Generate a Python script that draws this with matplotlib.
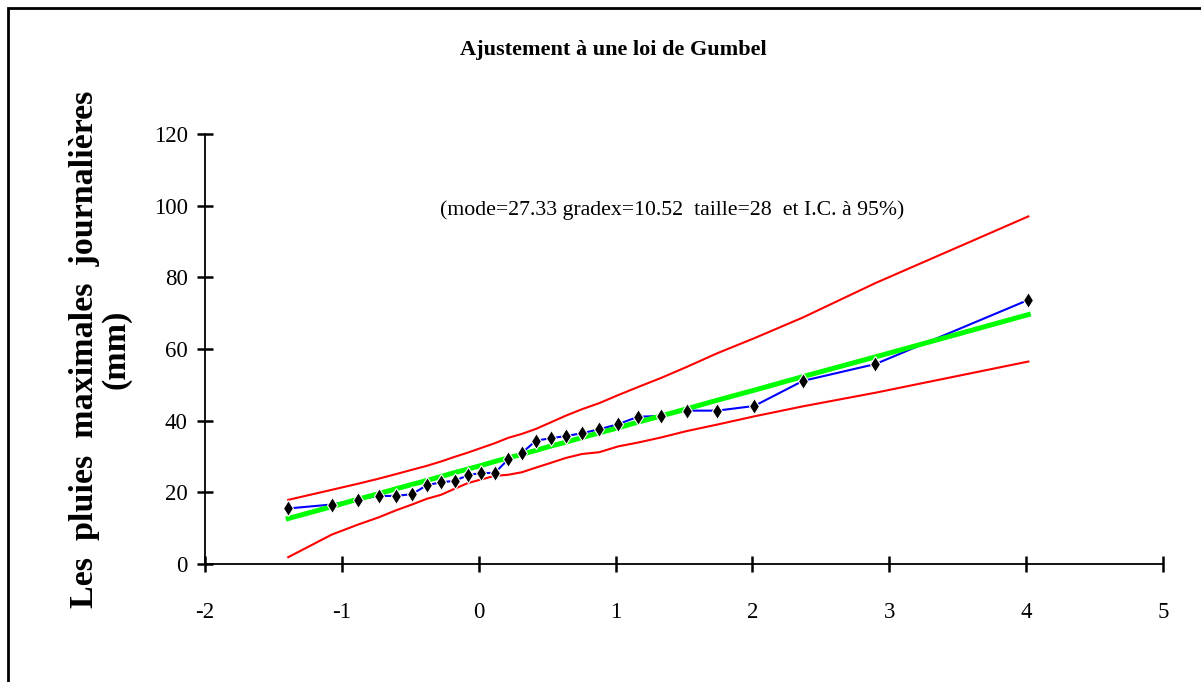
import matplotlib
matplotlib.use("Agg")
import matplotlib.pyplot as plt
from matplotlib.patches import Rectangle

SERIF = "Liberation Serif"
RED = "#FF0000"
BLUE = "#0000FF"
GREEN = "#00FF00"

plt.rcParams["axes.unicode_minus"] = False

# reduced Gumbel variable (plotting positions)
u_values = [-1.392, -1.074, -0.882, -0.732, -0.603, -0.487, -0.379, -0.276,
            -0.176, -0.078, 0.019, 0.117, 0.215, 0.315, 0.418, 0.525,
            0.637, 0.755, 0.881, 1.017, 1.165, 1.331, 1.520, 1.742,
            2.013, 2.369, 2.899, 4.016]

# observed daily maximum rainfall (mm)
observed = [15.5, 16.6, 18.0, 19.0, 19.0, 19.5, 22.0, 22.8,
            23.2, 24.8, 25.4, 25.4, 29.2, 31.0, 34.4, 35.1,
            35.7, 36.5, 37.6, 39.0, 41.1, 41.3, 42.8, 42.8,
            44.1, 51.1, 55.8, 73.7]

# fitted Gumbel line
fitted = [12.7, 16.0, 18.1, 19.6, 21.0, 22.2, 23.3, 24.4,
          25.5, 26.5, 27.5, 28.6, 29.6, 30.6, 31.7, 32.9,
          34.0, 35.3, 36.6, 38.0, 39.6, 41.3, 43.3, 45.7,
          48.5, 52.3, 57.8, 69.6]

# 95% confidence bounds
upper_ci = [17.9, 20.7, 22.4, 23.8, 25.1, 26.3, 27.4, 28.6,
            29.9, 31.1, 32.4, 33.7, 35.2, 36.3, 37.7, 39.5,
            41.4, 43.2, 44.9, 47.1, 49.4, 51.9, 55.0, 58.8,
            63.0, 68.8, 78.4, 97.0]
lower_ci = [1.9, 8.2, 11.0, 13.0, 15.0, 16.6, 18.2, 19.3,
            21.0, 22.6, 23.6, 24.6, 24.9, 25.6, 26.9, 28.2,
            29.6, 30.7, 31.2, 32.8, 33.9, 35.3, 37.1, 38.9,
            41.2, 44.0, 47.8, 56.5]

x_ticks = [-2, -1, 0, 1, 2, 3, 4, 5]
y_ticks = [0, 20, 40, 60, 80, 100, 120]

fig = plt.figure(figsize=(12.01, 6.82), dpi=100)
fig.patch.set_facecolor("white")

# outer frame of the chart object
fig.add_artist(Rectangle((8 / 1201, -0.05), 1.1, 1 - 8 / 682 + 0.05,
                         transform=fig.transFigure, fill=False,
                         edgecolor="black", linewidth=2.0))

ax = fig.add_axes([205 / 1201, 118 / 682, 958 / 1201, 430 / 682])

ax.plot(u_values, upper_ci, color=RED, linewidth=1.5, zorder=2)
ax.plot(u_values, lower_ci, color=RED, linewidth=1.5, zorder=2)
ax.plot(u_values, observed, color=BLUE, linewidth=1.5, zorder=3)
ax.plot(u_values, fitted, color=GREEN, linewidth=3.6, zorder=4)
ax.plot(u_values, observed, linestyle="none", marker="d", markersize=8.5,
        markerfacecolor="black", markeredgecolor="white",
        markeredgewidth=0.8, zorder=5)

ax.set_xlim(-2, 5)
ax.set_ylim(0, 120)
ax.set_xticks(x_ticks)
ax.set_yticks(y_ticks)
for spine in ("top", "right"):
    ax.spines[spine].set_visible(False)
for spine in ("left", "bottom"):
    ax.spines[spine].set_linewidth(1.3)
ax.tick_params(axis="both", direction="inout", length=11, width=1.8,
               labelsize=16.5)
ax.tick_params(axis="x", pad=22)
ax.tick_params(axis="y", pad=7)
for label in ax.get_xticklabels() + ax.get_yticklabels():
    label.set_fontfamily(SERIF)

ax.set_ylabel("Les  pluies  maximales  journalières\n(mm)", fontfamily=SERIF,
              fontsize=24.5, fontweight="bold", labelpad=16, linespacing=1.0)

fig.text(613 / 1201, 1 - 50 / 682, "Ajustement à une loi de Gumbel",
         fontfamily=SERIF, fontsize=16, fontweight="bold",
         ha="center", va="center")
ax.text(672 / 1201, 1 - 210 / 682,
        "(mode=27.33 gradex=10.52  taille=28  et I.C. à 95%)",
        transform=fig.transFigure, fontfamily=SERIF, fontsize=15.7,
        ha="center", va="center")

fig.savefig("out.png", dpi=100, facecolor="white")
